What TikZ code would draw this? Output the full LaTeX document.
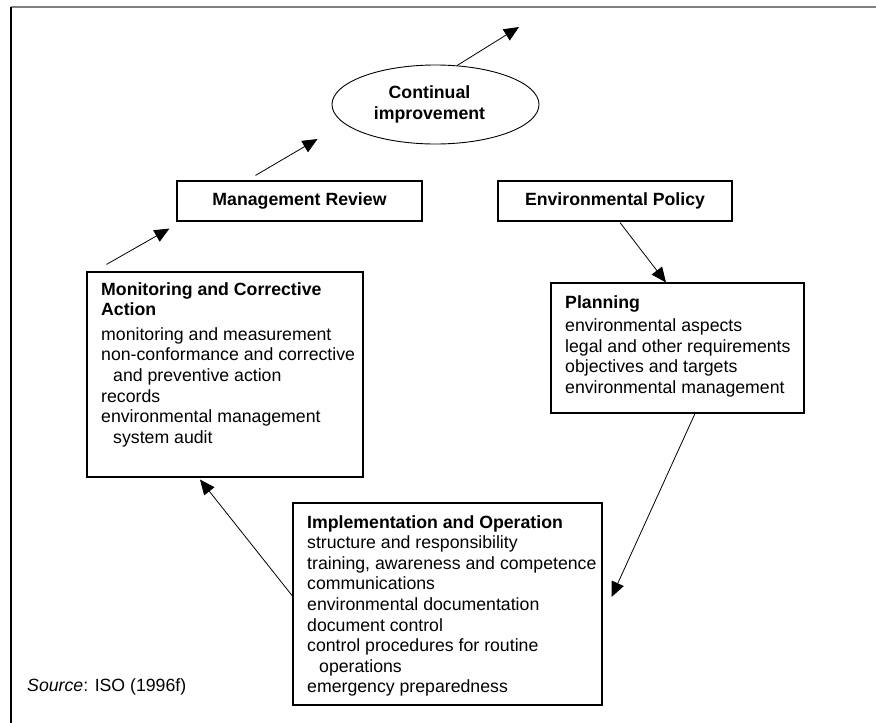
\documentclass[tikz,border=0pt]{standalone}
\usepackage{fontspec}
\setmainfont{Liberation Sans}
\usetikzlibrary{arrows.meta,shapes.geometric,calc}
\begin{document}
\begin{tikzpicture}[x=1pt,y=-1pt,
  every node/.style={font=\fontsize{17.7}{20.6}\selectfont},
  box/.style={draw,line width=1.1pt,rectangle,inner sep=0pt},
  txt/.style={anchor=base west,inner sep=0pt},
  arr/.style={line width=0.8pt,-{Triangle[length=15pt,width=13pt]}}]
\useasboundingbox (0,0) rectangle (876,723);
\draw[line width=2pt,gray] (11,6.5) -- (876,6.5);
\draw[line width=1.2pt] (11,6.5) -- (11,723);
% nodes
\node[draw,line width=0.9pt,ellipse,minimum width=207,minimum height=79,align=center,inner sep=0pt] (ci) at (435.5,104.5) {\bfseries Continual\hspace*{12pt}\\\bfseries improvement\hspace*{12pt}};
\node[box,minimum width=245,minimum height=40] (mr) at (299.5,201) {\bfseries Management Review};
\node[box,minimum width=234,minimum height=40] (ep) at (615,201) {\bfseries Environmental Policy};
\node[box,minimum width=276,minimum height=205] (mon) at (225,374.5) {};
\node[box,minimum width=253,minimum height=130] (pl) at (677.5,348) {};
\node[box,minimum width=309,minimum height=202] (im) at (447.5,604) {};
\node[txt] (montxt) at (101,295) {\begin{tabular}[t]{@{}l@{}}
\bfseries Monitoring and Corrective\\
\bfseries Action\\[4pt]
monitoring and measurement\\
non-conformance and corrective\\
\hspace*{12pt}and preventive action\\
records\\
environmental management\\
\hspace*{12pt}system audit
\end{tabular}};
\node[txt] (pltxt) at (565,308) {\begin{tabular}[t]{@{}l@{}}
\bfseries Planning\\[3pt]
environmental aspects\\
legal and other requirements\\
objectives and targets\\
environmental management
\end{tabular}};
\node[txt] (imtxt) at (307,528) {\begin{tabular}[t]{@{}l@{}}
\bfseries Implementation and Operation\\
structure and responsibility\\
training, awareness and competence\\
communications\\
environmental documentation\\
document control\\
control procedures for routine\\
\hspace*{12pt}operations\\
emergency preparedness
\end{tabular}};
\node[txt] (src) at (27,691) {\textit{Source}: ISO (1996f)};
\coordinate (top) at (519,27);
% connectors
\draw[arr] ($(mon.north west)+(20,-7)$) -- ($(mr.south west)+(-7,7)$);
\draw[arr] ($(mr.north west)+(79,-5)$) -- ($(ci.west)+(-14,34.5)$);
\draw[arr] ($(ci.north)+(21.5,1)$) -- (top);
\draw[arr] ($(ep.south)+(5,1)$) -- ($(pl.north)+(-11.5,0)$);
\draw[arr] ($(pl.south)+(17.5,0)$) -- ($(im.east)+(9,-7)$);
\draw[arr] ($(im.west)+(0,-8)$) -- ($(mon.south)+(-25,2)$);
\end{tikzpicture}
\end{document}
